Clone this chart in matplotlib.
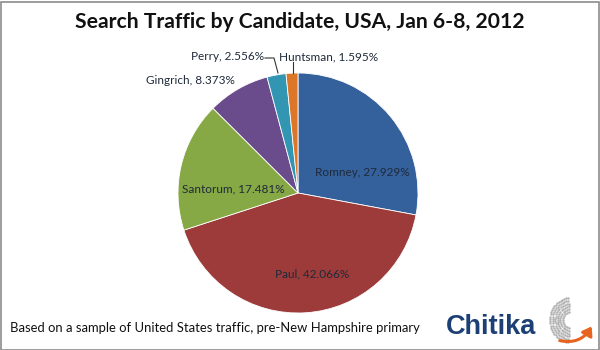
import numpy as np
import matplotlib
matplotlib.use("Agg")
import matplotlib.pyplot as plt
from matplotlib.patches import Rectangle, FancyArrowPatch

plt.rcParams['font.family'] = ['Lato', 'DejaVu Sans']

candidates = ["Romney", "Paul", "Santorum", "Gingrich", "Perry", "Huntsman"]
shares = [27.929, 42.066, 17.481, 8.373, 2.556, 1.595]
colors = ["#34619c", "#9c3b39", "#86a845", "#6a4c8c", "#3295b2", "#dc7628"]

W, H = 600, 350
cx, cy, r = 298, 193, 120

fig = plt.figure(figsize=(6, 3.5), dpi=100)
fig.patch.set_facecolor("white")

# pie axes: a square box in pixels around the pie centre
ax = fig.add_axes([(cx - r) / W, (H - cy - r) / H, 2 * r / W, 2 * r / H])
ax.pie(shares, colors=colors, startangle=90, counterclock=False,
       wedgeprops=dict(linewidth=0.6, edgecolor="white"))
ax.set_xlim(-1, 1)
ax.set_ylim(-1, 1)
ax.set_aspect("equal")
ax.axis("off")


def px(x, y):
    # pixel position -> pie data coords
    return (x - cx) / r, (cy - y) / r


labels = [f"{n}, {v:.3f}%" for n, v in zip(candidates, shares)]
label_pos = [(362, 173, "center"), (312, 274, "center"), (233, 189, "center"),
             (235, 81, "right"), (264, 57, "right"), (279, 57, "left")]
for text, (x, y, ha) in zip(labels, label_pos):
    ax.text(*px(x, y), text, ha=ha, va="center", fontsize=8.5,
            color="#1f2a3a", clip_on=False)

# leader lines for the two thin slices
ax.plot(*zip(px(265, 58), px(274, 58), px(278, 73)), color="#333333", lw=0.8,
        clip_on=False)
ax.plot(*zip(px(293, 62), px(293, 73)), color="#333333", lw=0.8, clip_on=False)

fig.text(0.5, 1 - 22 / H, "Search Traffic by Candidate, USA, Jan 6-8, 2012",
         ha="center", va="center", fontsize=15.2, fontweight="bold", color="#111111")
fig.text(10 / W, 1 - 328 / H,
         "Based on a sample of United States traffic, pre-New Hampshire primary",
         ha="left", va="center", fontsize=9.4, color="#111111")

# Chitika logo
fig.text(446 / W, 1 - 327 / H, "Chitika", ha="left", va="center", fontsize=19.5,
         fontweight="bold", family="Liberation Sans", color="#1c3f75")
lax = fig.add_axes([543 / W, 1 - 346 / H, 54 / W, 50 / H])
lax.set_xlim(0, 54)
lax.set_ylim(0, 50)
lax.set_aspect("equal")
lax.axis("off")
# dotted grey crescent (globe)
for rad in np.linspace(8, 22, 6):
    th = np.linspace(np.radians(95), np.radians(265), int(rad * 1.4))
    lax.scatter(27 + rad * 0.9 * np.cos(th), 26 + rad * np.sin(th),
                s=3, color="#b0b0b0", linewidths=0)
lax.add_patch(FancyArrowPatch((14, 6), (50, 22), connectionstyle="arc3,rad=0.4",
                              arrowstyle="-|>,head_length=5,head_width=3.5",
                              color="#e8641e", lw=2.2))

fig.add_artist(Rectangle((0.5 / W, 0.5 / H), 1 - 2 / W, 1 - 2 / H,
                         transform=fig.transFigure, fill=False,
                         edgecolor="#8c8c8c", lw=1.2))

fig.savefig("out.png", dpi=100)
